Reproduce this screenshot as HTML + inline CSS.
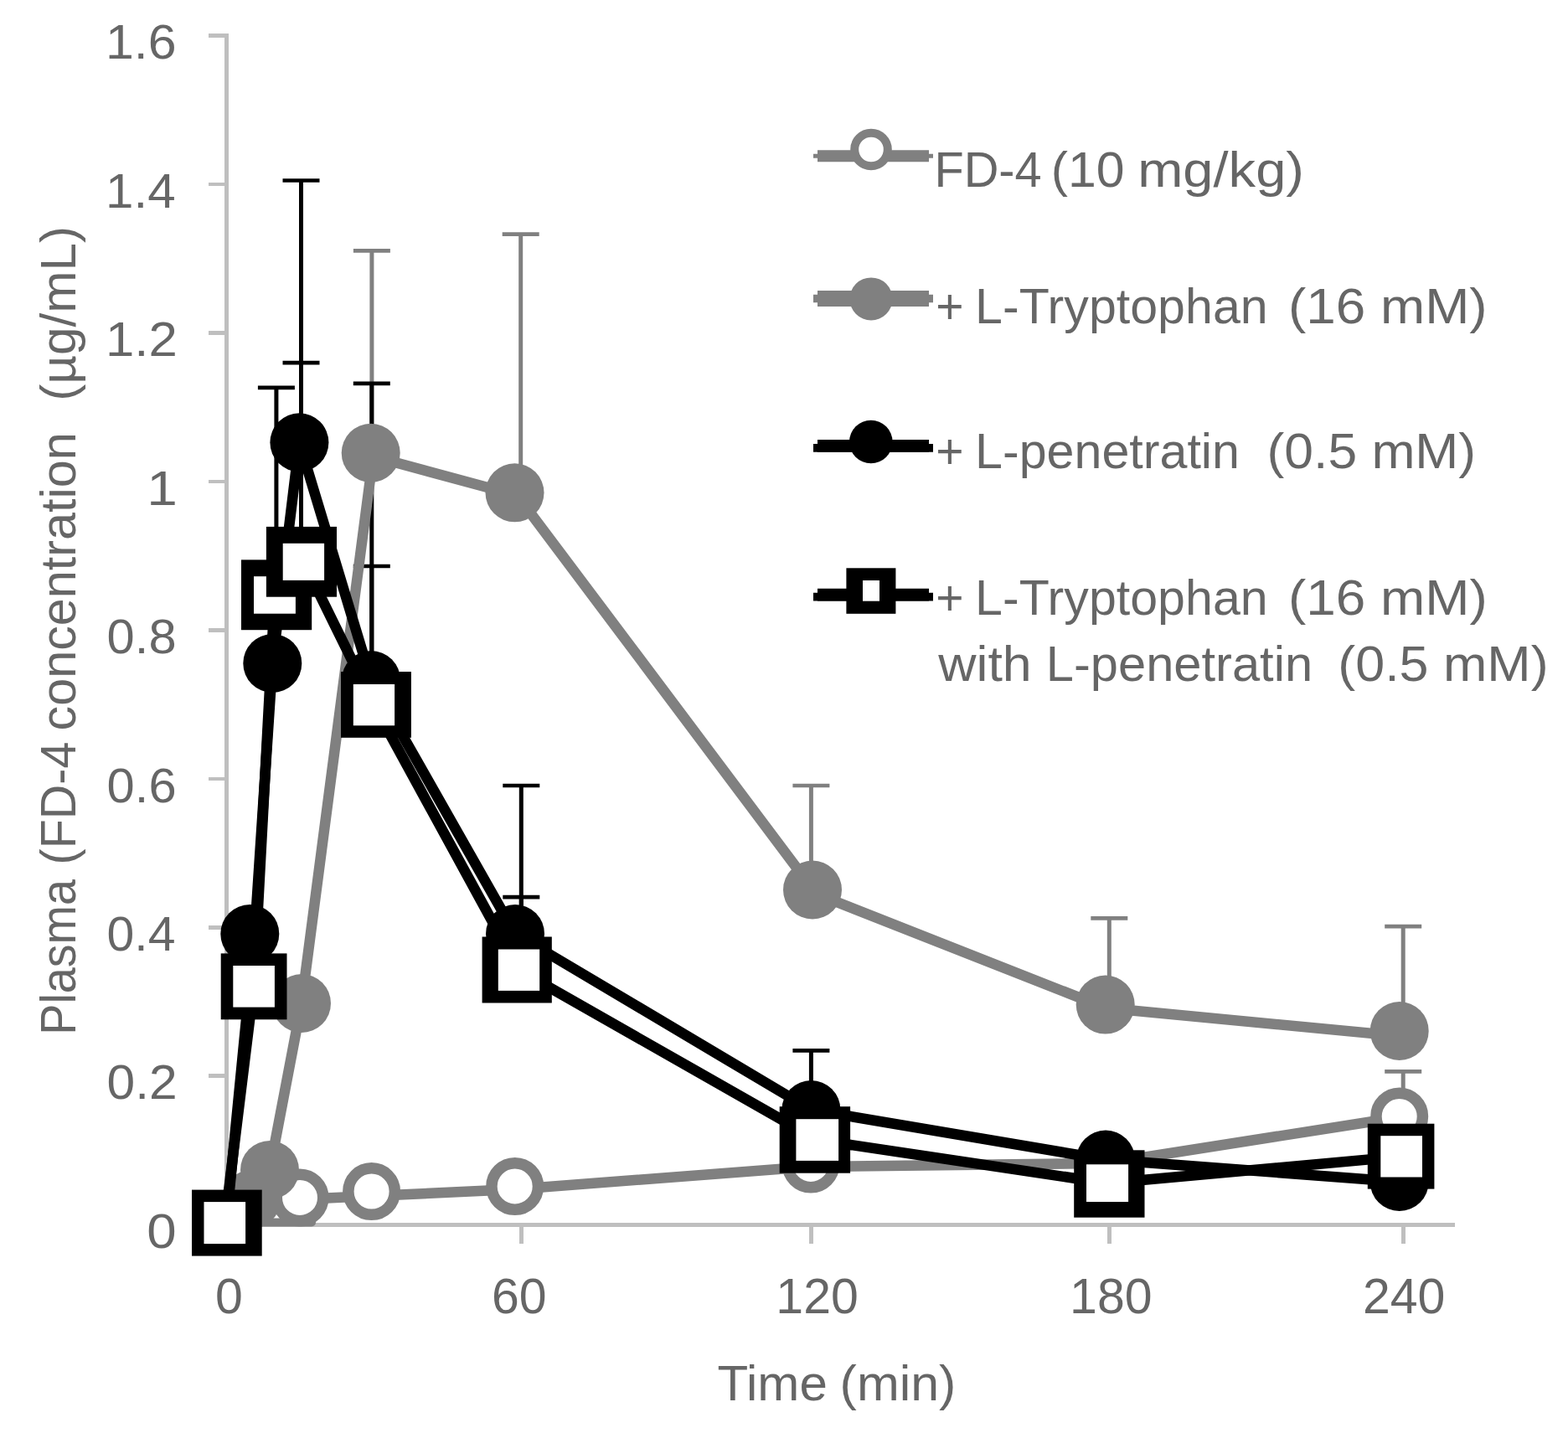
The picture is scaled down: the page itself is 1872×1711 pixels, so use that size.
<!DOCTYPE html><html><head><meta charset="utf-8"><title>FD-4 plasma concentration</title><style>html,body{margin:0;padding:0;background:#fff;}svg{display:block}text{font-family:'Liberation Sans', Arial, sans-serif;fill:#666666;white-space:pre;}</style></head><body>
<svg width="1872" height="1711" viewBox="0 0 1872 1711">
<rect width="1872" height="1711" fill="#fff"/>
<g stroke="#bfbfbf" stroke-width="4.7" fill="none" shape-rendering="crispEdges">
<line x1="270.5" y1="40.1" x2="270.5" y2="1464.6499999999999"/>
<line x1="268.15" y1="1462.3" x2="1736.8" y2="1462.3"/>
<line x1="248.9" y1="42.5" x2="270.5" y2="42.5"/>
<line x1="248.9" y1="220" x2="270.5" y2="220"/>
<line x1="248.9" y1="397.5" x2="270.5" y2="397.5"/>
<line x1="248.9" y1="575" x2="270.5" y2="575"/>
<line x1="248.9" y1="752.4" x2="270.5" y2="752.4"/>
<line x1="248.9" y1="930" x2="270.5" y2="930"/>
<line x1="248.9" y1="1107.4" x2="270.5" y2="1107.4"/>
<line x1="248.9" y1="1284.8" x2="270.5" y2="1284.8"/>
<line x1="248.9" y1="1462.3" x2="270.5" y2="1462.3"/>
<line x1="270.5" y1="1462.3" x2="270.5" y2="1484.7"/>
<line x1="622.2" y1="1462.3" x2="622.2" y2="1484.7"/>
<line x1="968.4" y1="1462.3" x2="968.4" y2="1484.7"/>
<line x1="1324.3" y1="1462.3" x2="1324.3" y2="1484.7"/>
<line x1="1675.2" y1="1462.3" x2="1675.2" y2="1484.7"/>
</g>
<text y="70.0" font-size="57"><tspan x="126.0" textLength="84.6" lengthAdjust="spacingAndGlyphs">1.6</tspan></text>
<text y="247.5" font-size="57"><tspan x="126.1" textLength="83.5" lengthAdjust="spacingAndGlyphs">1.4</tspan></text>
<text y="425.0" font-size="57"><tspan x="126.0" textLength="85.8" lengthAdjust="spacingAndGlyphs">1.2</tspan></text>
<text y="602.5" font-size="57"><tspan x="175.3" textLength="36.6" lengthAdjust="spacingAndGlyphs">1</tspan></text>
<text y="779.9" font-size="57"><tspan x="127.6" textLength="83.0" lengthAdjust="spacingAndGlyphs">0.8</tspan></text>
<text y="957.5" font-size="57"><tspan x="127.6" textLength="83.0" lengthAdjust="spacingAndGlyphs">0.6</tspan></text>
<text y="1134.9" font-size="57"><tspan x="127.6" textLength="81.9" lengthAdjust="spacingAndGlyphs">0.4</tspan></text>
<text y="1312.3" font-size="57"><tspan x="127.6" textLength="84.1" lengthAdjust="spacingAndGlyphs">0.2</tspan></text>
<text y="1489.8" font-size="57"><tspan x="175.3" textLength="35.4" lengthAdjust="spacingAndGlyphs">0</tspan></text>
<g font-size="59" text-anchor="middle">
<text x="273.4" y="1568.4">0</text>
<text x="619.7" y="1568.4">60</text>
<text x="975.6" y="1568.4">120</text>
<text x="1326.3" y="1568.4">180</text>
<text x="1676.2" y="1568.4">240</text>
</g>
<text y="1672.3" font-size="60"><tspan x="856.5" textLength="131.3" lengthAdjust="spacingAndGlyphs">Time</tspan> <tspan x="1002.6" textLength="138.8" lengthAdjust="spacingAndGlyphs">(min)</tspan></text>
<text y="0" font-size="60" transform="translate(89.9,1232.1) rotate(-90)"><tspan x="-3.7" textLength="185.8" lengthAdjust="spacingAndGlyphs">Plasma</tspan> <tspan x="199.7" textLength="146.8" lengthAdjust="spacingAndGlyphs">(FD-4</tspan> <tspan x="359.6" textLength="356.2" lengthAdjust="spacingAndGlyphs">concentration</tspan>  <tspan x="753.3" textLength="208.9" lengthAdjust="spacingAndGlyphs">(µg/mL)</tspan></text>
<line x1="443.9" y1="540.8" x2="443.9" y2="299.4" stroke="#808080" stroke-width="5.0"/>
<line x1="421.9" y1="299.4" x2="465.9" y2="299.4" stroke="#808080" stroke-width="4.7"/>
<line x1="621.7" y1="588.3" x2="621.7" y2="279.6" stroke="#808080" stroke-width="5.0"/>
<line x1="599.7" y1="279.6" x2="643.7" y2="279.6" stroke="#808080" stroke-width="4.7"/>
<line x1="968.4" y1="1060.3" x2="968.4" y2="938" stroke="#808080" stroke-width="5.0"/>
<line x1="946.4" y1="938" x2="990.4" y2="938" stroke="#808080" stroke-width="4.7"/>
<line x1="1324.3" y1="1199.6" x2="1324.3" y2="1096.4" stroke="#808080" stroke-width="5.0"/>
<line x1="1302.3" y1="1096.4" x2="1346.3" y2="1096.4" stroke="#808080" stroke-width="4.7"/>
<line x1="1675.2" y1="1231" x2="1675.2" y2="1106.2" stroke="#808080" stroke-width="5.0"/>
<line x1="1653.2" y1="1106.2" x2="1697.2" y2="1106.2" stroke="#808080" stroke-width="4.7"/>
<line x1="1675.2" y1="1332.5" x2="1675.2" y2="1279.4" stroke="#808080" stroke-width="5.0"/>
<line x1="1653.2" y1="1279.4" x2="1697.2" y2="1279.4" stroke="#808080" stroke-width="4.7"/>
<line x1="329.9" y1="710" x2="329.9" y2="462.8" stroke="#000000" stroke-width="5.0"/>
<line x1="307.9" y1="462.8" x2="351.9" y2="462.8" stroke="#000000" stroke-width="4.7"/>
<line x1="359.5" y1="528" x2="359.5" y2="215.5" stroke="#000000" stroke-width="5.0"/>
<line x1="337.5" y1="215.5" x2="381.5" y2="215.5" stroke="#000000" stroke-width="4.7"/>
<line x1="359.5" y1="670" x2="359.5" y2="433.2" stroke="#000000" stroke-width="5.0"/>
<line x1="337.5" y1="433.2" x2="381.5" y2="433.2" stroke="#000000" stroke-width="4.7"/>
<line x1="443.8" y1="812" x2="443.8" y2="457.9" stroke="#000000" stroke-width="5.0"/>
<line x1="421.8" y1="457.9" x2="465.8" y2="457.9" stroke="#000000" stroke-width="4.7"/>
<line x1="443.8" y1="841" x2="443.8" y2="676" stroke="#000000" stroke-width="5.0"/>
<line x1="421.8" y1="676" x2="465.8" y2="676" stroke="#000000" stroke-width="4.7"/>
<line x1="622.3" y1="1115" x2="622.3" y2="938" stroke="#000000" stroke-width="5.0"/>
<line x1="600.3" y1="938" x2="644.3" y2="938" stroke="#000000" stroke-width="4.7"/>
<line x1="622.3" y1="1158" x2="622.3" y2="1071.2" stroke="#000000" stroke-width="5.0"/>
<line x1="600.3" y1="1071.2" x2="644.3" y2="1071.2" stroke="#000000" stroke-width="4.7"/>
<line x1="968.4" y1="1325" x2="968.4" y2="1254.4" stroke="#000000" stroke-width="5.0"/>
<line x1="946.4" y1="1254.4" x2="990.4" y2="1254.4" stroke="#000000" stroke-width="4.7"/>
<line x1="300" y1="1459.5" x2="372" y2="1459.5" stroke="#808080" stroke-width="10" stroke-linecap="round"/>
<polyline points="270,1461 358,1432 443.6,1428 614.7,1420 968,1393 1320,1389 1670.7,1334" fill="none" stroke="#808080" stroke-width="12.5" stroke-linejoin="round"/>
<circle cx="358" cy="1430" r="27.75" fill="#fff" stroke="#808080" stroke-width="13.5"/>
<circle cx="443.6" cy="1422.6" r="27.75" fill="#fff" stroke="#808080" stroke-width="13.5"/>
<circle cx="614.7" cy="1416.5" r="27.75" fill="#fff" stroke="#808080" stroke-width="13.5"/>
<circle cx="968" cy="1390" r="27.75" fill="#fff" stroke="#808080" stroke-width="13.5"/>
<circle cx="1320" cy="1391" r="27.75" fill="#fff" stroke="#808080" stroke-width="13.5"/>
<circle cx="1670.7" cy="1333" r="27.75" fill="#fff" stroke="#808080" stroke-width="13.5"/>
<polyline points="270,1462 300,1432 322,1397 360,1198 446,541" fill="none" stroke="#808080" stroke-width="12.5" stroke-linejoin="round"/>
<line x1="442.7" y1="544.3" x2="614.5" y2="590.7" stroke="#808080" stroke-width="12.5" stroke-linecap="round"/>
<line x1="614.5" y1="587.4" x2="968.4" y2="1059.2" stroke="#808080" stroke-width="12.5" stroke-linecap="round"/>
<line x1="968.4" y1="1065" x2="1319.7" y2="1203.4" stroke="#808080" stroke-width="12.5" stroke-linecap="round"/>
<line x1="1319.7" y1="1203.5" x2="1670.7" y2="1237" stroke="#808080" stroke-width="12.5" stroke-linecap="round"/>
<circle cx="300" cy="1432" r="35" fill="#808080"/>
<circle cx="322" cy="1397" r="35" fill="#808080"/>
<circle cx="360" cy="1198" r="35" fill="#808080"/>
<circle cx="442.7" cy="540.8" r="35" fill="#808080"/>
<circle cx="614.5" cy="588.3" r="35" fill="#808080"/>
<circle cx="970" cy="1062.5" r="35" fill="#808080"/>
<circle cx="1319.7" cy="1199.6" r="35" fill="#808080"/>
<circle cx="1670.7" cy="1231" r="35" fill="#808080"/>
<polyline points="270,1462 304,1115 325.3,792 357.4,528.3 443,812 615,1115 968.4,1325 1320,1384.5 1670.7,1411" fill="none" stroke="#000000" stroke-width="12.5" stroke-linejoin="round"/>
<circle cx="298.3" cy="1115" r="35" fill="#000000"/>
<circle cx="325.3" cy="792" r="35" fill="#000000"/>
<circle cx="357.4" cy="528.3" r="35" fill="#000000"/>
<circle cx="443" cy="812" r="35" fill="#000000"/>
<circle cx="615" cy="1115" r="35" fill="#000000"/>
<circle cx="968.4" cy="1325" r="35" fill="#000000"/>
<circle cx="1320" cy="1384.5" r="35" fill="#000000"/>
<circle cx="1670.7" cy="1411" r="35" fill="#000000"/>
<polyline points="268.3,1460.1 303,1177.8 328,710 362.4,670.8 446.5,841.7 619.5,1158.2 975.7,1361 1322,1412.7 1673.2,1380.9" fill="none" stroke="#000000" stroke-width="12.5" stroke-linejoin="round"/>
<rect x="229.0" y="1420.6" width="83.7" height="79.0" fill="#000000"/>
<rect x="243.5" y="1435.1" width="49.6" height="50.0" fill="#fff"/>
<rect x="263.7" y="1138.4" width="78.8" height="78.9" fill="#000000"/>
<rect x="278.3" y="1153.0" width="49.6" height="49.6" fill="#fff"/>
<rect x="288.0" y="668.4" width="84.2" height="83.8" fill="#000000"/>
<rect x="303.0" y="688.2" width="49.9" height="44.5" fill="#fff"/>
<rect x="317.9" y="628.9" width="84.1" height="83.8" fill="#000000"/>
<rect x="337.7" y="648.8" width="49.4" height="44.1" fill="#fff"/>
<rect x="407.0" y="802.0" width="83.9" height="78.8" fill="#000000"/>
<rect x="421.8" y="817.0" width="49.3" height="49.3" fill="#fff"/>
<rect x="575.6" y="1118.5" width="83.2" height="79.0" fill="#000000"/>
<rect x="594.8" y="1133.5" width="49.4" height="49.4" fill="#fff"/>
<rect x="930.7" y="1321.2" width="84.4" height="79.5" fill="#000000"/>
<rect x="950.4" y="1336.2" width="50.7" height="49.7" fill="#fff"/>
<rect x="1282.2" y="1373.3" width="84.3" height="80.4" fill="#000000"/>
<rect x="1297.0" y="1390.3" width="50.1" height="44.7" fill="#fff"/>
<rect x="1632.8" y="1341.7" width="79.6" height="77.9" fill="#000000"/>
<rect x="1648.3" y="1356.2" width="49.7" height="49.3" fill="#fff"/>
<line x1="971" y1="186.2" x2="1114" y2="186.2" stroke="#808080" stroke-width="5"/>
<line x1="976" y1="186.2" x2="1109" y2="186.2" stroke="#808080" stroke-width="14"/>
<circle cx="1040" cy="178.5" r="19.8" fill="#fff" stroke="#808080" stroke-width="10"/>
<text y="222.5" font-size="60"><tspan x="1115.4" textLength="128.3" lengthAdjust="spacingAndGlyphs">FD-4</tspan> <tspan x="1254.7" textLength="87.7" lengthAdjust="spacingAndGlyphs">(10</tspan> <tspan x="1358.2" textLength="198.8" lengthAdjust="spacingAndGlyphs">mg/kg)</tspan></text>
<line x1="971" y1="356.6" x2="1114" y2="356.6" stroke="#808080" stroke-width="9.5"/>
<line x1="976" y1="356.6" x2="1109" y2="356.6" stroke="#808080" stroke-width="19"/>
<circle cx="1040" cy="356.9" r="25.5" fill="#808080"/>
<text y="386" font-size="60"><tspan x="1117.3" textLength="33.3" lengthAdjust="spacingAndGlyphs">+</tspan> <tspan x="1164.1" textLength="349.6" lengthAdjust="spacingAndGlyphs">L-Tryptophan</tspan>  <tspan x="1538.0" textLength="237.6" lengthAdjust="spacingAndGlyphs">(16 mM)</tspan></text>
<line x1="971" y1="534.8" x2="1114" y2="534.8" stroke="#000000" stroke-width="9.8"/>
<line x1="976" y1="532.4" x2="1109" y2="532.4" stroke="#000000" stroke-width="14.7"/>
<circle cx="1039.8" cy="527.5" r="25.8" fill="#000000"/>
<text y="559.2" font-size="60"><tspan x="1117.3" textLength="33.3" lengthAdjust="spacingAndGlyphs">+</tspan> <tspan x="1164.1" textLength="315.8" lengthAdjust="spacingAndGlyphs">L-penetratin</tspan>  <tspan x="1512.6" textLength="249.5" lengthAdjust="spacingAndGlyphs">(0.5 mM)</tspan></text>
<line x1="971" y1="712.6" x2="1114" y2="712.6" stroke="#000000" stroke-width="9.8"/>
<line x1="976" y1="710.2" x2="1109" y2="710.2" stroke="#000000" stroke-width="14.8"/>
<rect x="1010.4" y="678.3" width="59" height="54.5" fill="#000000"/>
<rect x="1030" y="693" width="20" height="24.7" fill="#fff"/>
<text y="734.3" font-size="60"><tspan x="1117.3" textLength="33.3" lengthAdjust="spacingAndGlyphs">+</tspan> <tspan x="1164.1" textLength="349.6" lengthAdjust="spacingAndGlyphs">L-Tryptophan</tspan>  <tspan x="1538.0" textLength="237.8" lengthAdjust="spacingAndGlyphs">(16 mM)</tspan></text>
<text y="812.5" font-size="60"><tspan x="1120.2" textLength="111.5" lengthAdjust="spacingAndGlyphs">with</tspan> <tspan x="1248.8" textLength="318.3" lengthAdjust="spacingAndGlyphs">L-penetratin</tspan>  <tspan x="1597.3" textLength="251.3" lengthAdjust="spacingAndGlyphs">(0.5 mM)</tspan></text>
</svg></body></html>
